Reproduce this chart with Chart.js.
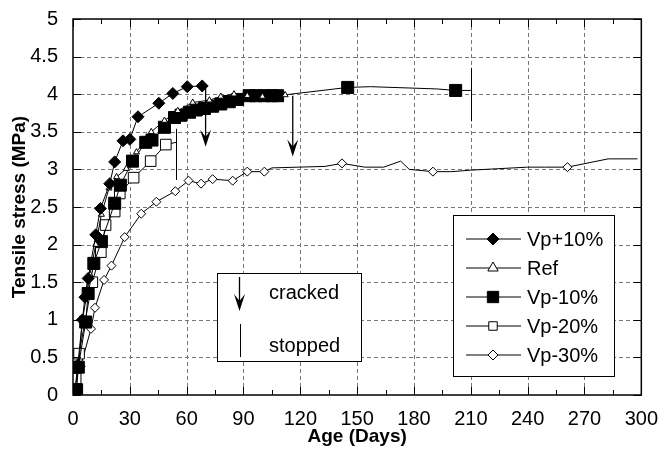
<!DOCTYPE html>
<html>
<head>
<meta charset="utf-8">
<script src="https://cdn.jsdelivr.net/npm/chart.js@4.4.0/dist/chart.umd.min.js"></script>
<style>
    html, body { margin: 0; padding: 0; background: #fff; }
</style>
</head>
<body>
<canvas id="myChart" width="662" height="451"></canvas>
<script>
// values (age in days, tensile stress in MPa)
const vpPlus10Days   = [1, 2.5, 5, 6.3, 8, 12, 14.5, 19.4, 22, 26.4, 30, 34.3, 45.3, 52.7, 60.3, 68.2];
const vpPlus10Stress = [0.05, 0.4, 1.0, 1.3, 1.55, 2.13, 2.48, 2.81, 3.1, 3.38, 3.4, 3.7, 3.88, 4.01, 4.1, 4.11];

const refDays   = [1, 3, 5, 7, 9, 12, 15, 19, 23, 28.2, 33.5, 41.3, 48.3, 55.3, 63.2, 72, 78, 85, 92, 100, 112];
const refStress = [0.05, 0.4, 1.0, 1.3, 1.6, 2.0, 2.4, 2.75, 2.9, 3.01, 3.23, 3.5, 3.65, 3.78, 3.89, 3.92, 3.97, 4.0, 3.98, 3.97, 3.99];

const vpMinus10Days   = [1.9, 2.8, 6.7, 8, 11, 15, 22, 25, 31.4, 38.4, 41.7, 48.3, 53.6, 57, 61.5, 65, 69.4, 73.7, 78, 82.5, 86.9, 93, 96.5, 101, 105, 108, 145, 157, 192, 202, 210];
const vpMinus10Stress = [0.07, 0.37, 0.97, 1.35, 1.75, 2.04, 2.55, 2.79, 3.11, 3.36, 3.39, 3.56, 3.69, 3.72, 3.76, 3.79, 3.81, 3.84, 3.87, 3.9, 3.93, 3.98, 3.98, 3.98, 3.98, 3.98, 4.09, 4.1, 4.07, 4.05, 4.05];
const vpMinus10Bare   = [157, 192, 210];

const vpMinus20Days   = [1.4, 3.2, 10.2, 14.7, 17.2, 22, 24.7, 32, 41, 49, 54.5];
const vpMinus20Stress = [0.22, 0.55, 1.5, 1.9, 2.26, 2.44, 2.68, 2.89, 3.11, 3.33, 3.36];
const vpMinus20Bare   = [54.5];

const vpMinus30Days   = [2, 4, 9.5, 11.6, 16.4, 20.3, 27.3, 36, 44, 54, 61, 67.6, 73.7, 84.3, 92, 101, 105, 133, 142, 154, 164, 173, 177.5, 190, 200, 210, 240, 249, 261, 282.5, 298];
const vpMinus30Stress = [0.11, 0.38, 0.88, 1.16, 1.53, 1.72, 2.1, 2.41, 2.57, 2.71, 2.85, 2.81, 2.87, 2.85, 2.97, 2.97, 3.02, 3.04, 3.08, 3.03, 3.03, 3.11, 3.0, 2.97, 2.97, 2.99, 3.03, 3.03, 3.03, 3.14, 3.14];
const vpMinus30Bare   = [105, 133, 154, 164, 173, 177.5, 200, 210, 240, 249, 282.5, 298];

// cracked arrows and stopped bars: [day, from stress, to stress]
const crackedMarks = [[70, 4.1, 3.3], [116, 3.98, 3.17]];
const stoppedMarks = [[54.5, 2.86, 3.54], [210, 3.64, 4.35]];

const xTicks = [0, 30, 60, 90, 120, 150, 180, 210, 240, 270, 300];
const yTicks = [0, 0.5, 1, 1.5, 2, 2.5, 3, 3.5, 4, 4.5, 5];

const FONT = "'Liberation Sans', Arial, Helvetica, sans-serif";

function toPoints(days, vals) {
    return days.map(function (d, i) { return { x: d, y: vals[i] } });
}

function radiusFor(r, bare) {
    return function (ctx) {
        if (!ctx.raw) return r;
        return (bare && bare.indexOf(ctx.raw.x) >= 0) ? 0 : r;
    }
}

const series = [
    { label: 'Vp+10%', data: toPoints(vpPlus10Days, vpPlus10Stress), style: 'rectRot', r: 6, fill: '#000', bare: null, legendR: 6 },
    { label: 'Ref', data: toPoints(refDays, refStress), style: 'triangle', r: 3.5, fill: '#fff', bare: null, legendR: 6 },
    { label: 'Vp-10%', data: toPoints(vpMinus10Days, vpMinus10Stress), style: 'rect', r: 8.5, fill: '#000', bare: vpMinus10Bare, legendR: 8 },
    { label: 'Vp-20%', data: toPoints(vpMinus20Days, vpMinus20Stress), style: 'rect', r: 7.5, fill: '#fff', bare: vpMinus20Bare, legendR: 6 },
    { label: 'Vp-30%', data: toPoints(vpMinus30Days, vpMinus30Stress), style: 'rectRot', r: 4.5, fill: '#fff', bare: vpMinus30Bare, legendR: 5 }
];

function arrowHead(ctx, x, yTip) {
    ctx.beginPath();
    ctx.moveTo(x, yTip);
    ctx.lineTo(x - 5.5, yTip - 17);
    ctx.lineTo(x, yTip - 10);
    ctx.lineTo(x + 5.5, yTip - 17);
    ctx.closePath();
    ctx.fill();
}

// dashed grid under the data
const dashedGrid = {
    id: 'dashedGrid',
    beforeDatasetsDraw: function (chart) {
        const ctx = chart.ctx;
        const xs = chart.scales.x, ys = chart.scales.y;
        const a = chart.chartArea;
        ctx.save();
        ctx.strokeStyle = '#777';
        ctx.lineWidth = 1;
        ctx.setLineDash([4, 3]);
        ctx.beginPath();
        xTicks.slice(1, -1).forEach(function (d) {
            const x = Math.round(xs.getPixelForValue(d)) + 0.5;
            ctx.moveTo(x, a.top); ctx.lineTo(x, a.bottom);
        });
        yTicks.slice(1, -1).forEach(function (v) {
            const y = Math.round(ys.getPixelForValue(v)) + 0.5;
            ctx.moveTo(a.left, y); ctx.lineTo(a.right, y);
        });
        ctx.stroke();
        ctx.restore();
    }
};

const decorations = {
    id: 'decorations',
    afterDatasetsDraw: function (chart) {
        const ctx = chart.ctx;
        const xs = chart.scales.x, ys = chart.scales.y;
        const a = chart.chartArea;
        ctx.save();
        ctx.strokeStyle = '#000';
        ctx.fillStyle = '#000';

        // cracked arrows
        ctx.lineWidth = 1.3;
        crackedMarks.forEach(function (m) {
            const x = xs.getPixelForValue(m[0]);
            const y1 = ys.getPixelForValue(m[1]), y2 = ys.getPixelForValue(m[2]);
            ctx.beginPath();
            ctx.moveTo(x, y1);
            ctx.lineTo(x, y2 - 6);
            ctx.stroke();
            arrowHead(ctx, x, y2);
        });
        // stopped bars
        ctx.lineWidth = 1;
        stoppedMarks.forEach(function (m) {
            const x = Math.round(xs.getPixelForValue(m[0])) + 0.5;
            ctx.beginPath();
            ctx.moveTo(x, ys.getPixelForValue(m[1]));
            ctx.lineTo(x, ys.getPixelForValue(m[2]));
            ctx.stroke();
        });

        // frame
        ctx.lineWidth = 1.5;
        ctx.strokeRect(a.left, a.top, a.right - a.left, a.bottom - a.top);

        // inner ticks
        ctx.lineWidth = 1;
        ctx.beginPath();
        for (let d = 0; d <= 300; d += 15) {
            const x = Math.round(xs.getPixelForValue(d)) + 0.5;
            const len = (d % 30 === 0) ? 8 : 5;
            ctx.moveTo(x, a.bottom); ctx.lineTo(x, a.bottom - len);
            ctx.moveTo(x, a.top); ctx.lineTo(x, a.top + len);
        }
        yTicks.forEach(function (v) {
            const y = Math.round(ys.getPixelForValue(v)) + 0.5;
            ctx.moveTo(a.left, y); ctx.lineTo(a.left + 8, y);
            ctx.moveTo(a.right, y); ctx.lineTo(a.right - 8, y);
        });
        ctx.stroke();

        // series legend
        const lx = 453.5, ly = 215.5, lw = 161, lh = 161;
        ctx.fillStyle = '#fff';
        ctx.fillRect(lx, ly, lw, lh);
        ctx.strokeStyle = '#000';
        ctx.lineWidth = 1;
        ctx.strokeRect(lx, ly, lw, lh);
        ctx.font = '20px ' + FONT;
        ctx.textBaseline = 'middle';
        ctx.textAlign = 'left';
        series.forEach(function (s, i) {
            const y = 239 + i * 29;
            ctx.strokeStyle = '#000';
            ctx.lineWidth = 1;
            ctx.beginPath();
            ctx.moveTo(466, y); ctx.lineTo(521, y);
            ctx.stroke();
            ctx.fillStyle = s.fill;
            Chart.helpers.drawPoint(ctx, { pointStyle: s.style, radius: s.legendR, rotation: 0, borderWidth: 1 }, 493, y);
            ctx.fillStyle = '#000';
            ctx.fillText(s.label, 527, y + 1);
        });

        // cracked / stopped legend
        ctx.fillStyle = '#fff';
        ctx.fillRect(217.5, 273.5, 144, 88);
        ctx.strokeRect(217.5, 273.5, 144, 88);
        ctx.fillStyle = '#000';
        ctx.lineWidth = 1.3;
        ctx.beginPath();
        ctx.moveTo(239.5, 277); ctx.lineTo(239.5, 305);
        ctx.stroke();
        arrowHead(ctx, 239.5, 311);
        ctx.lineWidth = 1;
        ctx.beginPath();
        ctx.moveTo(240.5, 324); ctx.lineTo(240.5, 357);
        ctx.stroke();
        ctx.fillText('cracked', 269, 293);
        ctx.fillText('stopped', 269, 346);

        ctx.restore();
    }
};

const ctx = document.getElementById('myChart').getContext('2d');
const chart = new Chart(ctx, {
    type: 'scatter',
    data: {
        datasets: series.map(function (s) {
            return {
                label: s.label,
                data: s.data,
                showLine: true,
                borderColor: '#000',
                borderWidth: 1,
                tension: 0,
                pointStyle: s.style,
                pointRadius: radiusFor(s.r, s.bare),
                pointHoverRadius: radiusFor(s.r, s.bare),
                pointBackgroundColor: s.fill,
                pointBorderColor: '#000',
                pointBorderWidth: 1
            }
        })
    },
    options: {
        responsive: false,
        animation: false,
        events: [],
        layout: { padding: { top: 16, right: 18, left: 0, bottom: 0 } },
        plugins: {
            legend: { display: false },
            tooltip: { enabled: false }
        },
        scales: {
            x: {
                type: 'linear',
                min: 0,
                max: 300,
                afterFit: function (s) { s.height = 56 },
                afterBuildTicks: function (s) { s.ticks = xTicks.map(function (v) { return { value: v } }) },
                ticks: { color: '#000', padding: 4, font: { family: FONT, size: 20 }, maxRotation: 0 },
                grid: { display: false },
                border: { display: false },
                title: { display: true, text: 'Age (Days)', color: '#000', padding: { top: 0, bottom: 3 }, font: { family: FONT, size: 19, weight: 'bold' } }
            },
            y: {
                type: 'linear',
                min: 0,
                max: 5,
                afterFit: function (s) { s.width = 73 },
                afterBuildTicks: function (s) { s.ticks = yTicks.map(function (v) { return { value: v } }) },
                ticks: { color: '#000', padding: 7, font: { family: FONT, size: 20 }, callback: function (v) { return String(v) } },
                grid: { display: false },
                border: { display: false },
                title: { display: true, text: 'Tensile stress (MPa)', color: '#000', padding: { top: 8, bottom: 0 }, font: { family: FONT, size: 19, weight: 'bold' } }
            }
        }
    },
    plugins: [dashedGrid, decorations]
});
</script>
</body>
</html>
